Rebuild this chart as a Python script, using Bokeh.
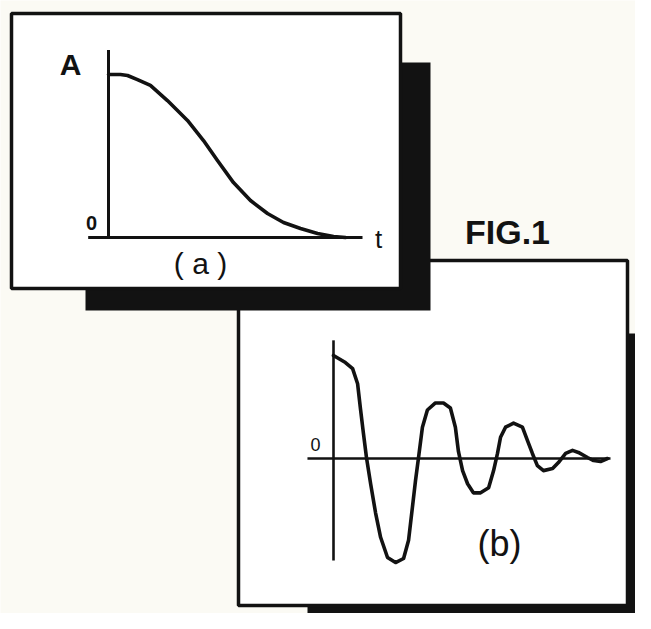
from bokeh.plotting import figure
from bokeh.models import Range1d
from bokeh.core.properties import value
from bokeh.embed import file_html
from bokeh.resources import INLINE

# ---- data: panel (a) – smooth decay A(t) ----
t_a = [0.0, 0.47, 0.75, 1.14, 1.65, 2.32, 3.11, 3.74, 4.29, 4.92, 5.59, 6.26,
       6.89, 7.56, 8.23, 8.86, 9.33]
A_a = [1.0, 1.0, 0.994, 0.969, 0.933, 0.84, 0.718, 0.595, 0.472, 0.337, 0.227,
       0.147, 0.092, 0.055, 0.025, 0.006, 0.0]
axis_a_t = [-0.8, 10.0]     # horizontal axis extent (t)
axis_a_A = [0.0, 1.15]      # vertical axis extent (A)

# ---- data: panel (b) – damped oscillation ----
t_b = [0.00, 0.43, 0.69, 0.87, 0.97, 1.08, 1.19, 1.34, 1.52, 1.70, 1.95, 2.24,
       2.53, 2.71, 2.85, 2.96, 3.07, 3.21, 3.39, 3.68, 3.97, 4.22, 4.40, 4.51,
       4.66, 4.84, 5.05, 5.31, 5.60, 5.78, 5.92, 6.03, 6.21, 6.50, 6.82, 7.00,
       7.18, 7.36, 7.58, 7.91, 8.12, 8.38, 8.63, 8.84, 9.17, 9.39, 9.64, 9.89]
A_b = [1.02, 0.95, 0.89, 0.74, 0.50, 0.25, 0.01, -0.25, -0.54, -0.78, -0.98,
       -1.03, -0.99, -0.81, -0.48, -0.22, 0.01, 0.31, 0.48, 0.55, 0.55, 0.50,
       0.31, 0.07, -0.12, -0.25, -0.34, -0.34, -0.29, -0.12, 0.05, 0.21, 0.31,
       0.35, 0.31, 0.18, 0.05, -0.07, -0.12, -0.10, -0.04, 0.05, 0.08, 0.06,
       0.01, -0.02, -0.03, 0.00]
axis_b_t = [-0.94, 10.0]
axis_b_A = [-1.01, 1.17]

title_text = "FIG.1"
label_a = "( a )"
label_b = "(b)"

# ---- layout (picture pixel coordinates) ----
W, H = 635, 613
X0, X1 = 0, W
Y0, Y1 = 0, H

p = figure(width=W, height=H, output_backend="svg", toolbar_location=None,
           x_range=Range1d(X0, X1), y_range=Range1d(Y1, Y0),
           x_axis_type=None, y_axis_type=None, min_border=0)
p.outline_line_color = None
p.background_fill_color = "#fbfaf4"
p.border_fill_color = "#fbfaf4"
p.grid.visible = False


def panel_ranges(px_origin, px_per_unit_x, py_origin, py_per_unit_y):
    xr = Range1d((X0 - px_origin) / px_per_unit_x, (X1 - px_origin) / px_per_unit_x)
    yr = Range1d((py_origin - Y1) / py_per_unit_y, (py_origin - Y0) / py_per_unit_y)
    return xr, yr


xa, ya = panel_ranges(108, 25.4, 237, 163)
xb, yb = panel_ranges(333, 27.7, 458, 101)
p.extra_x_ranges = {"ta": xa, "tb": xb}
p.extra_y_ranges = {"Aa": ya, "Ab": yb}

INK = "#121212"

# panel (b) shadow and box
p.quad(left=[307], right=[700], top=[333], bottom=[700], fill_color=INK, line_color=None)
p.quad(left=[238], right=[627], top=[260], bottom=[605], fill_color="white",
       line_color=INK, line_width=3.5)
# panel (a) shadow and box (drawn over (b))
p.quad(left=[85], right=[430], top=[62], bottom=[310], fill_color=INK, line_color=None)
p.quad(left=[11], right=[400], top=[13], bottom=[288], fill_color="white",
       line_color=INK, line_width=3.5)

# panel (a) axes + curve
p.line(axis_a_t, [0, 0], x_range_name="ta", y_range_name="Aa", line_color=INK, line_width=3)
p.line([0, 0], axis_a_A, x_range_name="ta", y_range_name="Aa", line_color=INK, line_width=3)
p.line(t_a, A_a, x_range_name="ta", y_range_name="Aa", line_color=INK, line_width=3.6,
       line_join="round", line_cap="round")

# panel (b) axes + curve
p.line(axis_b_t, [0, 0], x_range_name="tb", y_range_name="Ab", line_color=INK, line_width=2.6)
p.line([0, 0], axis_b_A, x_range_name="tb", y_range_name="Ab", line_color=INK, line_width=2.6)
p.line(t_b, A_b, x_range_name="tb", y_range_name="Ab", line_color=INK, line_width=3.6,
       line_join="round", line_cap="round")

FONT = value("Liberation Sans")


def label(x, y, txt, size, style="normal"):
    p.text(x=[x], y=[y], text=[txt], text_font=FONT, text_font_size=value(f"{size}px"),
           text_font_style=style, text_color=INK, text_align="center",
           text_baseline="middle")


label(70, 64, "A", 30, "bold")
label(91, 222, "0", 20, "bold")
label(378, 238, "t", 26)
label(200, 263, label_a, 30)
label(315, 444, "0", 18)
label(499, 543, label_b, 36)
label(507, 231, title_text, 34, "bold")

open("out.html", "w").write(file_html(p, INLINE))
